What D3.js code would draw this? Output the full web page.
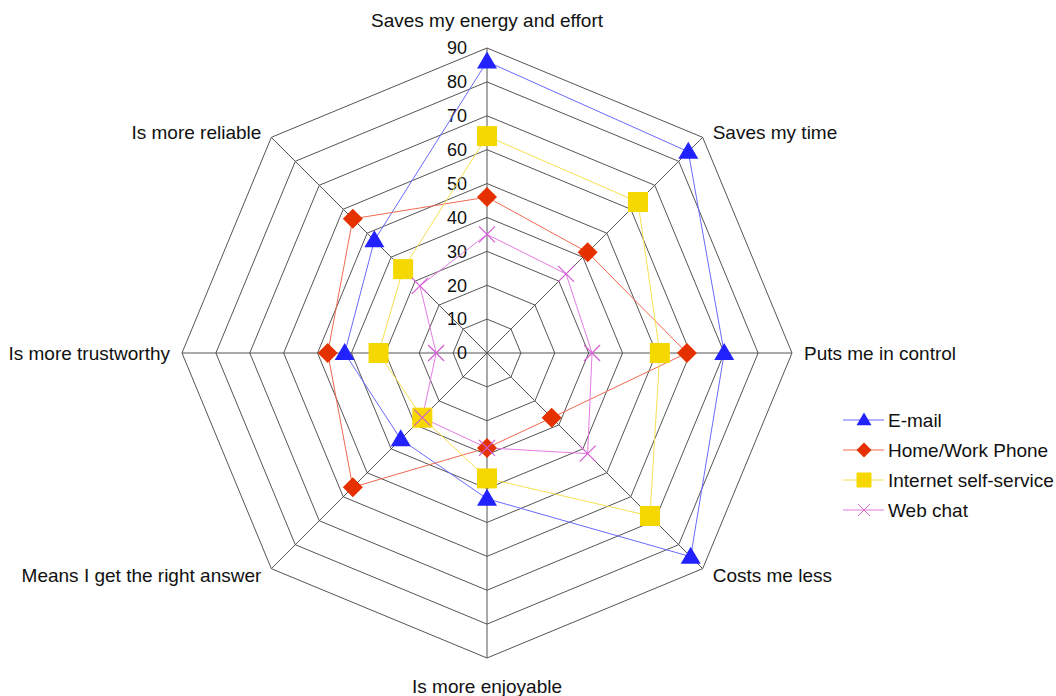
<!DOCTYPE html>
<html><head><meta charset="utf-8">
<script src="https://cdn.jsdelivr.net/npm/d3@7"></script>
<style>body{margin:0;background:#fff;} text{font-family:"Liberation Sans",Arial,sans-serif;fill:#111;}</style>
</head><body>
<svg id="c" width="1056" height="696"></svg>
<script>
const axes = ["Saves my energy and effort","Saves my time","Puts me in control","Costs me less","Is more enjoyable","Means I get the right answer","Is more trustworthy","Is more reliable"];
const ticks = [0,10,20,30,40,50,60,70,80,90];
const seriesNames = ["E-mail","Home/Work Phone","Internet self-service","Web chat"];
const email    = [86,84,70,85,43,36,42,47];
const phone    = [46,42,59,27,28,56,47,56];
const internet = [64,63,51,68,37,27,32,35];
const webchat  = [35,33,31,42,28,27,15,28];
const seriesData = [email, phone, internet, webchat];
const lineColors = ["#6a6aff","#f06a50","#f5e050","#e47ce4"];
const markColors = ["#2222ff","#e53000","#f5d800","#d45cd4"];
const markTypes = ["triangle","diamond","square","cross"];

const svg = d3.select("#c");
const cx = 487, cy = 353;
const r = d3.scaleLinear().domain([0,90]).range([0,305]);
const ang = d3.scaleLinear().domain([0,axes.length]).range([0,2*Math.PI]);
const pt = (i,v)=>[cx + r(v)*Math.sin(ang(i)), cy - r(v)*Math.cos(ang(i))];

const g = svg.append("g");
ticks.slice(1).forEach(t=>{
  g.append("path").attr("d", d3.line()(axes.map((a,i)=>pt(i,t))) + "Z")
   .attr("fill","none").attr("stroke","#555").attr("stroke-width",1);
});
axes.forEach((a,i)=>{
  const p = pt(i,90);
  g.append("line").attr("x1",cx).attr("y1",cy).attr("x2",p[0]).attr("y2",p[1])
   .attr("stroke","#555").attr("stroke-width",1);
});
ticks.forEach(t=>{
  g.append("text").attr("x",cx-20).attr("y",cy-r(t)).attr("dy","0.35em")
   .attr("text-anchor","end").attr("font-size",18).text(t);
});
const labelPos = [
  {dx:0,dy:-28,anchor:"middle"},
  {dx:10,dy:-5,anchor:"start"},
  {dx:12,dy:0,anchor:"start"},
  {dx:10,dy:7,anchor:"start"},
  {dx:0,dy:28,anchor:"middle"},
  {dx:-10,dy:7,anchor:"end"},
  {dx:-12,dy:0,anchor:"end"},
  {dx:-10,dy:-5,anchor:"end"}
];
axes.forEach((a,i)=>{
  const p = pt(i,90), L = labelPos[i];
  g.append("text").attr("x",p[0]+L.dx).attr("y",p[1]+L.dy).attr("dy","0.35em")
   .attr("text-anchor",L.anchor).attr("font-size",19).text(a);
});

function drawMarker(sel, type, color, x, y){
  if(type==="triangle"){
    sel.append("path").attr("d",`M${x},${y-10}L${x+10},${y+7}L${x-10},${y+7}Z`).attr("fill",color);
  } else if(type==="diamond"){
    sel.append("path").attr("d",`M${x},${y-10}L${x+10},${y}L${x},${y+10}L${x-10},${y}Z`).attr("fill",color);
  } else if(type==="square"){
    sel.append("rect").attr("x",x-10).attr("y",y-10).attr("width",20).attr("height",20).attr("fill",color);
  } else {
    sel.append("path").attr("d",`M${x-8},${y-8}L${x+8},${y+8}M${x-8},${y+8}L${x+8},${y-8}`)
      .attr("stroke",color).attr("stroke-width",1.2).attr("fill","none");
  }
}

seriesData.forEach((s,k)=>{
  const pts = s.map((v,i)=>pt(i,v));
  g.append("path").attr("d", d3.line()(pts)+"Z").attr("fill","none")
   .attr("stroke",lineColors[k]).attr("stroke-width",1);
});
seriesData.forEach((s,k)=>{
  s.forEach((v,i)=>{ const p=pt(i,v); drawMarker(g, markTypes[k], markColors[k], p[0], p[1]); });
});

const lg = svg.append("g");
seriesNames.forEach((n,k)=>{
  const y = 420 + k*30;
  lg.append("line").attr("x1",843).attr("x2",884).attr("y1",y).attr("y2",y).attr("stroke",lineColors[k]).attr("stroke-width",1);
  const mg = lg.append("g").attr("transform",`translate(864,${y}) scale(0.75) translate(-864,${-y})`);
  drawMarker(mg, markTypes[k], markColors[k], 864, y);
  lg.append("text").attr("x",888).attr("y",y).attr("dy","0.35em").attr("font-size",19).text(n);
});
</script>
</body></html>
